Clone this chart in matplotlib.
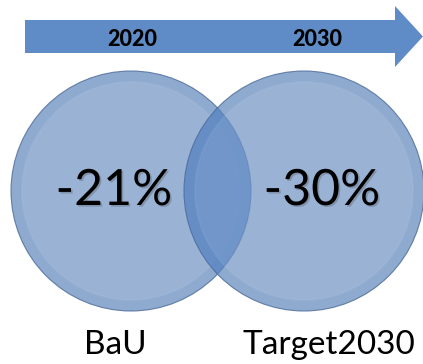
import matplotlib.pyplot as plt
from matplotlib.patches import Circle, FancyArrow
import matplotlib.patheffects as pe

years = ["2020", "2030"]
scenarios = ["BaU", "Target2030"]
reductions = [-21, -30]

plt.rcParams['font.family'] = ['Lato', 'DejaVu Sans']

fig = plt.figure(figsize=(4.23, 3.64), dpi=100)
ax = fig.add_axes([0, 0, 1, 1])
ax.set_xlim(0, 423)
ax.set_ylim(364, 0)
ax.set_aspect('equal')
ax.axis('off')

# timeline arrow across the top
ax.add_patch(FancyArrow(25, 36.5, 370, 0, width=33, head_width=61,
                        head_length=28, length_includes_head=False,
                        color='#5F8BC6', lw=0))

centers = [(131, 191), (304, 191)]
radius = 120
year_x = [132, 317]
label_x = [115, 329]
text_dx = [-17, 18]

for year, yx in zip(years, year_x):
    ax.text(yx, 40, year, ha='center', va='center', fontsize=15.5,
            fontweight='black', color='black')

discs = []
for (cx, cy) in centers:
    d = Circle((cx, cy), radius, facecolor='#6489BD', alpha=0.72,
               edgecolor='none')
    ax.add_patch(d)
    discs.append(d)
    ax.add_patch(Circle((cx, cy), radius, facecolor='none',
                        edgecolor='#4A6A98', lw=0.8, alpha=0.8))
    # glassy bevel inside the rim
    ax.add_patch(Circle((cx, cy), radius - 11, facecolor='white', alpha=0.1,
                        edgecolor='#C6DAF2', lw=1.6))

# bluer tint where the two discs overlap
lens = Circle(centers[1], radius, facecolor='#2F74D0', alpha=0.18,
              edgecolor='none')
ax.add_patch(lens)
lens.set_clip_path(discs[0])

for (cx, cy), val, dx in zip(centers, reductions, text_dx):
    ax.text(cx + dx, cy, f"{val}%", ha='center', va='center', fontsize=36,
            color='black',
            path_effects=[pe.withSimplePatchShadow(offset=(1.2, -1.2),
                                                  shadow_rgbFace='#333333',
                                                  alpha=0.25)])

for name, lx in zip(scenarios, label_x):
    ax.text(lx, 345, name, ha='center', va='center', fontsize=24,
            color='black')

fig.savefig('out.png', dpi=100)
